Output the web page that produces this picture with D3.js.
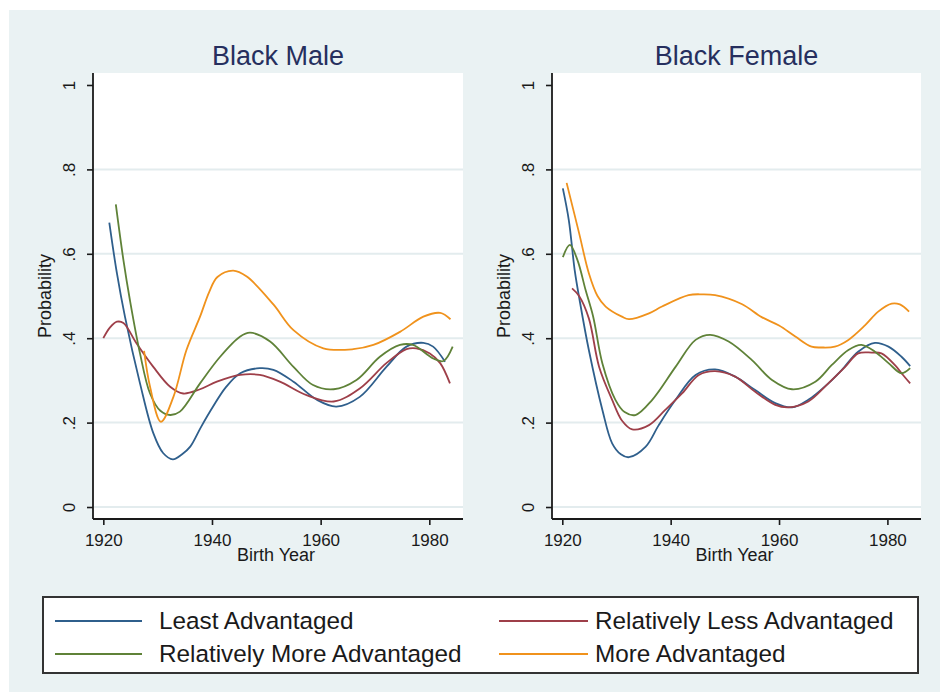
<!DOCTYPE html>
<html>
<head>
<meta charset="utf-8">
<script src="https://cdn.jsdelivr.net/npm/d3@7"></script>
<style>
  html, body { margin: 0; padding: 0; background: #ffffff; }
  svg { display: block; font-family: "Liberation Sans", Arial, sans-serif; }
</style>
</head>
<body>
<svg id="chart" width="940" height="692"></svg>
<script>
// Predicted probability by birth year, smoothed, for four advantage groups.
const panelTitles = ["Black Male", "Black Female"];
const seriesNames = ["Least Advantaged", "Relatively Less Advantaged",
                     "Relatively More Advantaged", "More Advantaged"];
const seriesColors = ["#2f5f8c", "#9e3f49", "#5f8238", "#f0921c"];
const xTicks = [1920, 1940, 1960, 1980];
const yTicks = [0, 0.2, 0.4, 0.6, 0.8, 1];
const yTickLabels = ["0", ".2", ".4", ".6", ".8", "1"];

// Black Male: [birth year, probability]
const maleLeast = [[1921.1,0.674],[1922.5,0.554],[1924,0.45],[1926.75,0.293],[1929.2,0.175],[1931,0.128],
  [1932.8,0.113],[1934.5,0.125],[1936,0.143],[1938,0.19],[1940.2,0.238],[1942.5,0.283],[1945.2,0.317],
  [1948.8,0.329],[1951.3,0.325],[1955,0.297],[1959.3,0.254],[1962.9,0.238],[1967.2,0.261],[1972.1,0.332],
  [1975.8,0.38],[1978.9,0.389],[1980.7,0.38],[1982.9,0.344]];
const maleLess = [[1920,0.4],[1921.2,0.425],[1922.5,0.439],[1923.7,0.436],[1926.1,0.388],[1929.2,0.332],
  [1932.3,0.285],[1934.7,0.269],[1937.8,0.279],[1940.9,0.297],[1945.2,0.313],[1948.8,0.313],[1952.5,0.297],
  [1957.4,0.265],[1962.4,0.25],[1967.2,0.281],[1972.1,0.341],[1975.8,0.374],[1977.6,0.376],[1980.1,0.364],
  [1982,0.341],[1983.8,0.293]];
const maleMore = [[1922.3,0.717],[1923.7,0.585],[1924.9,0.49],[1926.75,0.364],[1928.6,0.269],[1930.5,0.228],
  [1932.3,0.218],[1934.1,0.226],[1937.8,0.293],[1941.5,0.356],[1945.2,0.404],[1947,0.413],[1950.7,0.392],
  [1955,0.332],[1958.6,0.289],[1962.4,0.279],[1966.6,0.301],[1970.9,0.356],[1974.6,0.384],[1977,0.384],
  [1980.7,0.352],[1982.6,0.346],[1984.3,0.38]];
const maleMost = [[1927.5,0.37],[1928.6,0.285],[1930.6,0.202],[1932.9,0.261],[1935.3,0.372],[1937.8,0.451],
  [1939.5,0.51],[1941,0.545],[1943.9,0.56],[1946.4,0.546],[1951.3,0.48],[1955,0.419],[1960.5,0.376],
  [1966,0.374],[1969.7,0.384],[1974.6,0.415],[1978.9,0.451],[1982,0.46],[1983.9,0.445]];

// Black Female: [birth year, probability]
const femaleLeast = [[1920.1,0.755],[1921.2,0.68],[1922.3,0.56],[1923.2,0.49],[1924.9,0.372],[1927.4,0.23],
  [1929.2,0.151],[1930.8,0.125],[1932.3,0.118],[1935.4,0.143],[1937.8,0.194],[1940.9,0.254],[1944.6,0.313],
  [1948.2,0.326],[1951.9,0.309],[1955.6,0.277],[1959.3,0.246],[1962.4,0.236],[1965.4,0.254],[1969.1,0.293],
  [1971.6,0.325],[1974.6,0.368],[1977.7,0.389],[1980.2,0.38],[1982.6,0.356],[1984.2,0.334]];
const femaleLess = [[1921.8,0.518],[1923.1,0.5],[1924.9,0.447],[1926.8,0.332],[1929.2,0.254],[1931,0.205],
  [1932.9,0.184],[1936,0.194],[1939,0.23],[1942.1,0.269],[1945.2,0.313],[1948.2,0.322],[1951.9,0.309],
  [1955.6,0.273],[1959.3,0.242],[1961.7,0.236],[1965.4,0.25],[1969.1,0.293],[1972.2,0.332],[1974.6,0.364],
  [1977.1,0.366],[1978.9,0.364],[1981.4,0.336],[1982.6,0.317],[1984.2,0.293]];
const femaleMore = [[1920.1,0.592],[1921.4,0.621],[1922.8,0.585],[1924.3,0.514],[1925.7,0.451],[1927.4,0.34],
  [1929.8,0.254],[1931.5,0.225],[1933.5,0.218],[1936.6,0.254],[1940.9,0.332],[1944.6,0.396],[1947.3,0.408],
  [1950.7,0.392],[1955,0.348],[1958.7,0.301],[1962.4,0.279],[1966.7,0.297],[1969.7,0.336],[1972.8,0.372],
  [1975.2,0.384],[1977.7,0.368],[1980.2,0.341],[1982.6,0.317],[1984.2,0.329]];
const femaleMost = [[1920.8,0.768],[1923.1,0.649],[1924.9,0.554],[1926.5,0.5],[1928,0.475],[1931,0.451],
  [1932.3,0.445],[1936,0.459],[1938.4,0.475],[1943.3,0.502],[1945.8,0.504],[1948.2,0.502],[1953.1,0.481],
  [1956.8,0.45],[1960,0.43],[1963,0.404],[1966,0.38],[1967.9,0.378],[1970.3,0.38],[1972.8,0.396],
  [1975.9,0.431],[1978.3,0.463],[1980.8,0.482],[1982.3,0.48],[1984,0.463]];

const panelSeries = [
  [maleLeast, maleLess, maleMore, maleMost],
  [femaleLeast, femaleLess, femaleMore, femaleMost]
];

const svg = d3.select("#chart");
const bgColor = "#eaf2f3";
const inkColor = "#1a1a1a";

// Graph background
svg.append("rect").attr("x", 9).attr("y", 10).attr("width", 931).attr("height", 682).attr("fill", bgColor);

const panels = [
  { left: 93, right: 463 },
  { left: 552, right: 921 }
];
const plotTop = 73, plotBottom = 519;

const y = d3.scaleLinear().domain([-0.0284, 1.0284]).range([plotBottom, plotTop]);

panels.forEach((p, i) => {
  const x = d3.scaleLinear().domain([1918.1, 1986.2]).range([p.left, p.right]);
  const g = svg.append("g");

  // plot region
  g.append("rect").attr("x", p.left).attr("y", plotTop)
    .attr("width", p.right - p.left).attr("height", plotBottom - plotTop).attr("fill", "#ffffff");

  // horizontal grid
  g.append("g").selectAll("line").data(yTicks.filter(v => v < 1)).join("line")
    .attr("x1", p.left + 1).attr("x2", p.right)
    .attr("y1", d => y(d)).attr("y2", d => y(d))
    .attr("stroke", "#e3ecee").attr("stroke-width", 2);

  // series lines
  const line = d3.line().x(d => x(d[0])).y(d => y(d[1])).curve(d3.curveCatmullRom.alpha(0.5));
  panelSeries[i].forEach((s, k) => {
    g.append("path").datum(s).attr("d", line)
      .attr("fill", "none").attr("stroke", seriesColors[k])
      .attr("stroke-width", 1.8).attr("stroke-linejoin", "round");
  });

  // y axis
  const yAxis = d3.axisLeft(y).tickValues(yTicks).tickSize(6).tickSizeOuter(0)
    .tickFormat((d, j) => yTickLabels[j]);
  const ya = g.append("g").attr("transform", `translate(${p.left},0)`).call(yAxis);
  ya.select(".domain").attr("stroke", inkColor).attr("stroke-width", 1.8)
    .attr("d", `M0,${plotTop}V${plotBottom}`);
  ya.selectAll(".tick line").attr("stroke", inkColor).attr("stroke-width", 1.6);
  ya.selectAll(".tick text")
    .attr("transform", "rotate(-90)").attr("x", 0).attr("y", -18).attr("dy", 0)
    .attr("text-anchor", "middle").attr("fill", inkColor)
    .style("font-size", "17px").style("font-family", "'Liberation Sans', Arial, sans-serif");

  // x axis
  const xAxis = d3.axisBottom(x).tickValues(xTicks).tickSize(6).tickSizeOuter(0).tickFormat(d3.format("d"));
  const xa = g.append("g").attr("transform", `translate(0,${plotBottom})`).call(xAxis);
  xa.select(".domain").attr("stroke", inkColor).attr("stroke-width", 1.8)
    .attr("d", `M${p.left},0H${p.right}`);
  xa.selectAll(".tick line").attr("stroke", inkColor).attr("stroke-width", 1.6);
  xa.selectAll(".tick text").attr("y", 27).attr("dy", 0).attr("fill", inkColor)
    .style("font-size", "17px").style("font-family", "'Liberation Sans', Arial, sans-serif");

  const cx = (p.left + p.right) / 2;

  // panel title
  g.append("text").attr("x", cx).attr("y", 65).attr("text-anchor", "middle")
    .attr("fill", "#262f5e").style("font-size", "27px").text(panelTitles[i]);

  // axis titles
  g.append("text").attr("x", cx - 2).attr("y", 561).attr("text-anchor", "middle")
    .attr("fill", inkColor).style("font-size", "18px").text("Birth Year");
  g.append("text").attr("transform", `translate(${p.left - 42},${(plotTop + plotBottom) / 2}) rotate(-90)`)
    .attr("text-anchor", "middle").attr("fill", inkColor).style("font-size", "18px").text("Probability");
});

// legend
const legend = svg.append("g");
legend.append("rect").attr("x", 43).attr("y", 597).attr("width", 875).attr("height", 76)
  .attr("fill", "#ffffff").attr("stroke", "#333333").attr("stroke-width", 2);

const legendCols = [{ x1: 55, x2: 142, tx: 159 }, { x1: 499, x2: 588, tx: 595 }];
const legendRows = [621, 654];
seriesNames.forEach((name, k) => {
  const col = legendCols[k % 2], ry = legendRows[Math.floor(k / 2)];
  legend.append("line").attr("x1", col.x1).attr("x2", col.x2).attr("y1", ry).attr("y2", ry)
    .attr("stroke", seriesColors[k]).attr("stroke-width", 1.8);
  legend.append("text").attr("x", col.tx).attr("y", ry + 8).attr("fill", inkColor)
    .style("font-size", "24.3px").text(name);
});
</script>
</body>
</html>
